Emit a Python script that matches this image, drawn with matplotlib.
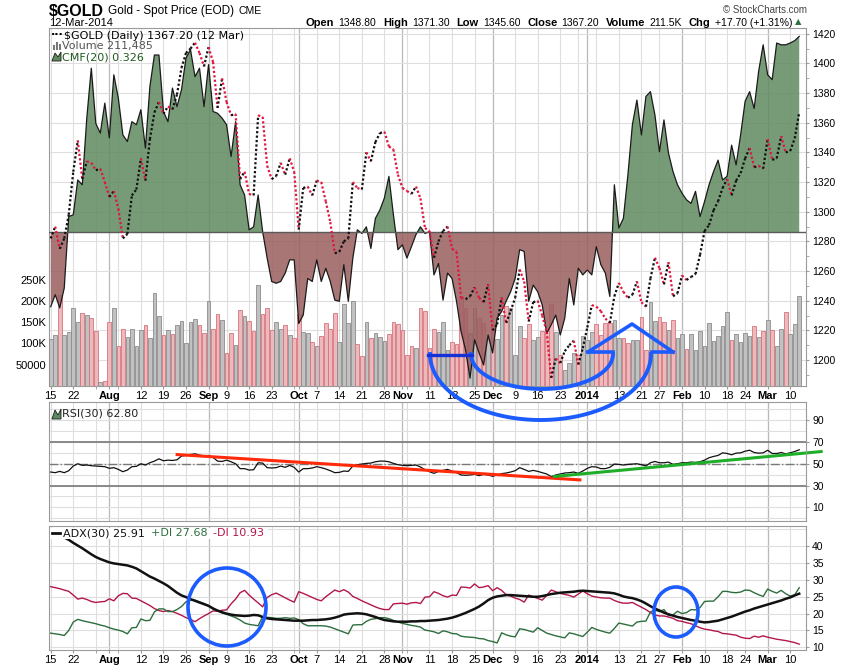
import numpy as np
import pandas as pd
import matplotlib
matplotlib.use("Agg")
import matplotlib.pyplot as plt
from matplotlib.collections import LineCollection
from matplotlib.patches import Ellipse, Rectangle, Polygon

W, H = 850, 668
plt.rcParams['font.family'] = ['Liberation Sans', 'DejaVu Sans']

HOLIDAYS = ["2013-09-02", "2013-11-28", "2013-12-25", "2014-01-01", "2014-01-20", "2014-02-17"]

close = [1282, 1290, 1275, 1282, 1298, 1327, 1348, 1322, 1334, 1333,
         1328, 1329, 1320, 1310, 1314, 1302, 1282, 1285, 1311, 1315,
         1336, 1321, 1349, 1367, 1374, 1366, 1371, 1369, 1379, 1397,
         1407, 1410, 1414, 1407, 1398, 1411, 1401, 1370, 1390, 1374,
         1365, 1366, 1322, 1327, 1312, 1311, 1365, 1364, 1331, 1322,
         1324, 1333, 1325, 1336, 1327, 1288, 1316, 1317, 1311, 1321,
         1320, 1307, 1293, 1272, 1273, 1280, 1282, 1320, 1316, 1315,
         1340, 1334, 1347, 1353, 1354, 1344, 1342, 1325, 1316, 1314,
         1312, 1317, 1309, 1289, 1287, 1269, 1280, 1287, 1290, 1275,
         1273, 1242, 1241, 1243, 1249, 1242, 1239, 1251, 1220, 1224,
         1242, 1225, 1233, 1242, 1261, 1253, 1226, 1239, 1240, 1230,
         1219, 1188, 1201, 1198, 1206, 1210, 1213, 1197, 1208, 1222,
         1237, 1236, 1233, 1228, 1225, 1243, 1252, 1246, 1242, 1244,
         1253, 1239, 1236, 1255, 1269, 1262, 1251, 1266, 1243, 1245,
         1257, 1254, 1256, 1258, 1271, 1287, 1291, 1301, 1307, 1316,
         1322, 1311, 1321, 1326, 1336, 1343, 1330, 1331, 1329, 1349,
         1335, 1336, 1351, 1340, 1341, 1349.5, 1367.2]

volume_k = [110, 119, 214, 119, 126, 183, 150, 171, 166, 159,
            129, 9, 12, 151, 183, 93, 134, 115, 133, 93,
            132, 143, 112, 218, 164, 119, 132, 122, 143, 152,
            100, 150, 157, 143, 124, 200, 134, 169, 155, 77,
            124, 96, 178, 164, 153, 129, 237, 169, 183, 132,
            150, 133, 143, 119, 112, 169, 126, 125, 103, 93,
            118, 147, 134, 171, 104, 194, 147, 200, 98, 71,
            150, 112, 124, 116, 107, 122, 150, 145, 132, 74,
            95, 90, 183, 176, 90, 134, 126, 150, 84, 103,
            98, 212, 184, 124, 183, 161, 149, 110, 140, 110,
            167, 187, 183, 73, 140, 114, 145, 108, 116, 129,
            129, 194, 126, 73, 38, 53, 77, 74, 118, 108,
            128, 145, 120, 147, 147, 155, 112, 114, 100, 108,
            108, 162, 85, 197, 153, 162, 150, 132, 155, 112,
            122, 87, 122, 85, 129, 93, 147, 106, 118, 142,
            175, 108, 122, 104, 124, 118, 142, 115, 129, 155,
            132, 95, 134, 175, 122, 145, 211.485]

cmf = [-0.124, -0.104, -0.126, -0.093, 0.026, 0.029, 0.087, 0.079, 0.190, 0.273,
       0.181, 0.165, 0.215, 0.157, 0.262, 0.223, 0.162, 0.151, 0.184, 0.179,
       0.204, 0.140, 0.243, 0.295, 0.295, 0.201, 0.184, 0.240, 0.209, 0.237,
       0.290, 0.304, 0.259, 0.273, 0.209, 0.279, 0.201, 0.198, 0.190, 0.179,
       0.126, 0.184, 0.079, 0.062, 0.004, 0.009, 0.062, 0.001, -0.043, -0.082,
       -0.085, -0.082, -0.068, -0.046, -0.046, -0.152, -0.138, -0.077, -0.082, -0.046,
       -0.082, -0.060, -0.082, -0.113, -0.115, -0.054, -0.115, -0.043, 0.004, -0.002,
       0.009, -0.027, 0.023, 0.037, 0.057, 0.093, 0.029, -0.029, -0.021, -0.043,
       -0.024, -0.004, 0.009, -0.002, 0.001, -0.071, -0.052, -0.113, -0.068, -0.077,
       -0.115, -0.165, -0.196, -0.243, -0.179, -0.201, -0.221, -0.171, -0.201, -0.143,
       -0.132, -0.115, -0.099, -0.077, -0.029, -0.032, -0.115, -0.088, -0.099, -0.121,
       -0.168, -0.154, -0.138, -0.171, -0.143, -0.077, -0.121, -0.060, -0.071, -0.063,
       -0.071, -0.024, -0.054, -0.068, -0.107, 0.079, 0.007, 0.023, 0.095, 0.179,
       0.220, 0.162, 0.226, 0.234, 0.195, 0.134, 0.187, 0.132, 0.101, 0.079,
       0.065, 0.054, 0.048, 0.068, 0.026, 0.051, 0.079, 0.101, 0.120, 0.087,
       0.093, 0.145, 0.112, 0.162, 0.218, 0.234, 0.206, 0.268, 0.312, 0.262,
       0.254, 0.315, 0.312, 0.312, 0.315, 0.319, 0.326]

rsi = [42.4, 41.8, 43.0, 41.8, 43.6, 47.9, 50.0, 48.5, 48.8, 48.2,
       47.9, 47.6, 47.3, 45.8, 46.4, 44.8, 42.7, 44.2, 47.3, 47.6,
       50.0, 48.8, 50.9, 52.4, 54.5, 52.7, 53.3, 53.0, 53.6, 57.0,
       57.6, 58.5, 59.1, 57.9, 57.0, 57.6, 55.8, 52.4, 52.1, 53.3,
       51.8, 50.0, 45.5, 45.5, 44.2, 44.5, 50.9, 50.6, 46.4, 46.1,
       46.4, 47.9, 46.7, 48.5, 46.7, 42.4, 45.5, 45.5, 46.1, 47.3,
       46.4, 45.2, 43.6, 41.8, 42.1, 43.3, 43.0, 47.9, 49.1, 49.7,
       50.3, 50.6, 51.8, 52.4, 52.4, 51.8, 50.3, 49.1, 48.5, 48.2,
       48.5, 48.8, 47.0, 44.5, 42.7, 41.2, 43.0, 43.9, 44.8, 43.3,
       41.8, 39.7, 39.4, 39.7, 40.3, 39.1, 40.3, 39.7, 38.5, 39.7,
       40.9, 41.5, 42.4, 43.6, 46.4, 44.8, 43.0, 43.9, 43.0, 41.8,
       40.6, 38.2, 39.7, 40.6, 41.5, 41.8, 42.4, 41.2, 43.3, 45.8,
       47.3, 47.0, 45.5, 45.5, 46.7, 49.7, 49.4, 48.8, 49.4, 49.7,
       50.0, 49.1, 47.9, 50.9, 52.1, 50.9, 50.9, 51.5, 49.4, 50.0,
       50.9, 50.9, 51.5, 51.2, 51.8, 53.3, 55.5, 56.7, 57.6, 60.0,
       59.4, 58.2, 59.7, 60.0, 61.5, 62.4, 60.3, 59.7, 60.0, 62.4,
       59.4, 59.4, 60.3, 59.1, 60.0, 61.2, 62.8]

adx = [44.6, 44.0, 43.3, 42.6, 41.9, 41.0, 40.2, 39.4, 38.5, 37.6,
       36.8, 36.2, 35.7, 35.2, 34.9, 34.7, 34.5, 34.3, 33.9, 33.4,
       32.6, 31.8, 31.0, 30.4, 29.7, 29.0, 28.2, 27.2, 26.2, 25.4,
       24.9, 24.3, 23.8, 23.3, 22.8, 22.3, 21.5, 20.9, 20.4, 20.0,
       19.7, 19.5, 19.4, 19.3, 19.4, 19.6, 19.5, 19.0, 18.6, 18.4,
       18.3, 18.2, 18.1, 18.0, 17.9, 17.9, 17.9, 18.0, 18.1, 18.1,
       18.2, 18.3, 18.5, 18.8, 19.2, 19.7, 19.9, 20.0, 20.1, 20.0,
       19.8, 19.4, 19.0, 18.5, 18.1, 17.9, 17.7, 17.6, 17.6, 17.6,
       17.7, 17.7, 17.8, 17.8, 17.9, 18.0, 18.1, 18.3, 18.5, 18.8,
       19.2, 19.7, 20.2, 20.8, 21.4, 22.1, 23.0, 24.0, 24.7, 25.1,
       25.3, 25.5, 25.5, 25.4, 25.3, 25.2, 25.1, 25.0, 25.0, 25.2,
       25.5, 25.8, 26.0, 26.2, 26.3, 26.4, 26.5, 26.7, 26.8, 26.7,
       26.6, 26.5, 26.4, 26.3, 26.2, 26.0, 25.6, 25.1, 24.8, 24.6,
       24.2, 23.7, 23.0, 22.2, 21.5, 20.9, 20.3, 19.8, 19.4, 19.0,
       18.7, 18.4, 18.1, 17.9, 17.6, 17.4, 17.5, 17.7, 17.9, 18.3,
       18.7, 19.1, 19.6, 20.1, 20.6, 21.0, 21.5, 21.9, 22.3, 22.7,
       23.1, 23.5, 23.9, 24.4, 24.8, 25.4, 25.91]

plus_di = [14.2, 14.0, 13.8, 13.5, 15.0, 17.5, 18.3, 17.9, 17.6, 17.3,
           17.0, 16.6, 16.3, 15.8, 15.4, 15.1, 14.7, 14.0, 15.8, 15.9,
           18.4, 17.9, 18.0, 20.5, 21.4, 21.4, 20.6, 20.6, 21.2, 22.1,
           23.5, 24.0, 24.0, 23.5, 23.0, 22.4, 21.7, 20.8, 20.2, 19.8,
           19.3, 18.8, 18.1, 17.2, 16.8, 16.6, 16.4, 19.1, 18.9, 18.8,
           18.6, 18.6, 18.8, 18.6, 18.7, 18.2, 17.0, 16.4, 16.4, 16.4,
           16.4, 16.3, 16.0, 15.5, 15.0, 14.5, 14.0, 16.6, 16.7, 16.7,
           17.7, 18.3, 18.5, 18.8, 18.8, 18.5, 18.0, 17.5, 17.1, 16.8,
           16.5, 16.3, 16.0, 15.1, 14.9, 14.6, 14.1, 14.9, 14.6, 14.1,
           14.0, 13.3, 13.1, 13.0, 12.9, 12.6, 12.5, 12.0, 11.7, 11.3,
           14.3, 13.7, 13.3, 13.1, 15.5, 15.3, 14.9, 14.5, 15.8, 15.0,
           14.2, 13.8, 13.4, 13.1, 12.8, 14.3, 14.0, 13.6, 13.2, 14.5,
           15.9, 15.3, 14.9, 14.5, 14.2, 15.6, 17.2, 16.9, 16.6, 16.3,
           17.5, 17.7, 17.8, 20.5, 21.0, 20.6, 21.2, 19.4, 19.6, 20.7,
           20.0, 20.3, 21.2, 21.1, 21.8, 23.6, 23.7, 23.7, 25.0, 26.6,
           26.6, 26.3, 26.2, 26.4, 27.0, 26.9, 26.2, 25.6, 25.1, 27.3,
           26.6, 26.1, 26.9, 25.9, 25.2, 25.6, 27.68]

minus_di = [28.0, 27.7, 27.4, 27.0, 26.6, 25.5, 24.3, 24.6, 24.2, 23.6,
            23.3, 23.5, 23.6, 24.4, 23.8, 25.3, 26.0, 25.9, 24.6, 24.5,
            23.8, 23.1, 22.4, 21.5, 20.9, 20.6, 20.9, 20.6, 20.1, 19.5,
            18.8, 18.3, 17.6, 18.5, 19.3, 20.0, 20.8, 20.7, 21.0, 21.1,
            22.9, 24.3, 26.2, 26.9, 25.5, 24.3, 23.2, 22.0, 24.8, 25.6,
            26.1, 25.4, 24.7, 24.0, 23.4, 26.5, 26.0, 25.4, 24.8, 24.2,
            23.8, 25.0, 26.0, 27.0, 26.5, 27.1, 26.4, 25.1, 24.5, 23.8,
            23.2, 22.6, 22.0, 21.5, 21.2, 21.2, 22.9, 23.0, 23.1, 22.8,
            23.2, 23.3, 23.0, 24.9, 25.0, 26.5, 26.0, 25.3, 24.9, 25.5,
            25.4, 27.9, 27.8, 27.6, 28.8, 27.7, 27.9, 28.3, 26.8, 27.7,
            26.9, 25.6, 25.2, 24.6, 24.2, 23.4, 25.5, 25.0, 24.5, 24.0,
            25.4, 27.0, 26.5, 26.0, 25.7, 25.4, 24.9, 25.8, 26.7, 25.9,
            25.2, 24.9, 24.7, 24.6, 24.6, 23.9, 23.4, 23.1, 23.1, 23.3,
            22.6, 21.9, 21.2, 20.3, 19.6, 19.3, 19.3, 19.0, 18.6, 17.9,
            17.7, 17.3, 17.0, 16.4, 15.8, 15.4, 15.2, 14.9, 14.7, 14.1,
            14.0, 13.8, 13.6, 13.0, 12.7, 12.6, 13.3, 13.0, 13.4, 13.0,
            12.7, 12.4, 12.2, 12.0, 11.7, 11.4, 10.93]

# hand-drawn trend lines on the RSI panel (day index, RSI value)
rsi_red_trend = ([27.7, 117.7], [58.5, 35.1])
rsi_green_trend = ([111.4, 171.2], [38.2, 61.3])

dates = pd.bdate_range("2013-07-15", "2014-03-12")
dates = dates[~dates.isin(pd.to_datetime(HOLIDAYS))]
x = np.arange(len(dates))
close = np.array(close)
vol = np.array(volume_k) * 1000
cmf = np.array(cmf)
up = np.r_[True, np.diff(close) >= 0]

# weekly / monthly ticks the way the chart labels them
week_start = [i for i in x if i == 0 or dates[i].isocalendar()[1] != dates[i - 1].isocalendar()[1]]
month_start = [i for i in x[1:] if dates[i].month != dates[i - 1].month]
tick_pos, tick_lab, tick_bold = [], [], []
for w in week_start:
    if any(abs(w - m) <= 3 for m in month_start):
        continue
    tick_pos.append(w); tick_lab.append(str(dates[w].day)); tick_bold.append(False)
for m in month_start:
    tick_pos.append(m)
    tick_lab.append('2014' if dates[m].month == 1 else dates[m].strftime('%b'))
    tick_bold.append(True)

XLIM = (-0.38, 167.5)
FRAME = '#9a9a9a'
fig = plt.figure(figsize=(W / 100, H / 100), dpi=100)


def px_rect(l, t, r, b):
    return [l / W, 1 - b / H, (r - l) / W, (b - t) / H]


def vgrid(ax):
    for w in week_start:
        ax.axvline(w, color='#dedede', lw=0.8, zorder=0)
    for m in month_start:
        ax.axvline(m, color='#b9b9b9', lw=0.9, zorder=0)


def style_frame(ax):
    for s in ax.spines.values():
        s.set_color(FRAME)


def xlabels(ax):
    ax.set_xticks(tick_pos)
    ax.set_xticklabels(tick_lab)
    for t, b in zip(ax.get_xticklabels(), tick_bold):
        if b:
            t.set_fontweight('bold')
    ax.set_xticks(week_start, minor=True)
    ax.tick_params(axis='x', which='both', length=2.5, color=FRAME, labelsize=8, pad=1)


def overlay(ax):
    ax.patch.set_visible(False)
    for s in ax.spines.values():
        s.set_visible(False)
    ax.set_xlim(XLIM)
    ax.tick_params(axis='x', which='both', bottom=False, labelbottom=False)


# ---- main panel: grid + price scale
main_rect = px_rect(49, 28, 806, 386)
ax_g = fig.add_axes(main_rect, label='grid')
ax_g.set_xlim(XLIM)
ax_g.set_ylim(1182.5, 1423.9)
vgrid(ax_g)
price_ticks = np.arange(1200, 1421, 20)
for p in price_ticks:
    ax_g.axhline(p, color='#dedede', lw=0.8, zorder=0)
ax_g.yaxis.tick_right()
ax_g.set_yticks(price_ticks)
ax_g.set_yticks(np.arange(1190, 1421, 10), minor=True)
ax_g.tick_params(axis='y', which='both', length=2.5, color=FRAME, labelsize=7.5, pad=2)
xlabels(ax_g)
style_frame(ax_g)

# volume
ax_v = fig.add_axes(main_rect, label='volume')
overlay(ax_v)
ax_v.bar(x, vol, width=0.82,
         color=np.where(up, '#c1c1c1', '#ecb9bd'),
         edgecolor=np.where(up, '#8c8c8c', '#d8747c'), linewidth=0.6)
ax_v.set_ylim(0, 842000)
ax_v.set_yticks([50000, 100000, 150000, 200000, 250000])
ax_v.set_yticklabels(['50000', '100K', '150K', '200K', '250K'])
ax_v.tick_params(axis='y', length=0, labelsize=8, pad=2)

# chaikin money flow
ax_c = fig.add_axes(main_rect, label='cmf')
overlay(ax_c)
ax_c.set_ylim(-0.256, 0.34)
ax_c.set_yticks([])
ax_c.fill_between(x, cmf, 0, where=cmf >= 0, interpolate=True, color='#5f8a5f', alpha=0.85, lw=0)
ax_c.fill_between(x, cmf, 0, where=cmf <= 0, interpolate=True, color='#9a5e5e', alpha=0.85, lw=0)
ax_c.plot(x, cmf, color='#1a1a1a', lw=0.9)
ax_c.axhline(0, color='#5a5a5a', lw=1.0)

# price line, dotted and coloured by direction
ax_l = fig.add_axes(main_rect, label='price')
overlay(ax_l)
ax_l.set_ylim(ax_g.get_ylim())
ax_l.set_yticks([])
segs = [[(i - 1, close[i - 1]), (i, close[i])] for i in x[1:]]
seg_cols = ['#111111' if u else '#e0163f' for u in up[1:]]
ax_l.add_collection(LineCollection(segs, colors=seg_cols, linewidths=1.6,
                                   linestyles=[(0, (1, 1))]))

# ---- RSI panel
ax_r = fig.add_axes(px_rect(49, 402, 806, 521), label='rsi')
ax_r.set_xlim(XLIM)
ax_r.set_ylim(-2.5, 106.6)
vgrid(ax_r)
for lvl in range(0, 101, 10):
    ax_r.axhline(lvl, color='#dedede', lw=0.8, zorder=0)
ax_r.axhline(70, color='#787878', lw=1.2)
ax_r.axhline(30, color='#787878', lw=1.2)
ax_r.axhline(50, color='#787878', lw=1.0, ls='-.')
ax_r.plot(x, rsi, color='#111111', lw=0.9)
ax_r.plot(*rsi_red_trend, color='#ff2a0a', lw=2.2, solid_capstyle='butt')
ax_r.plot(*rsi_green_trend, color='#1fae2a', lw=2.2, clip_on=False, solid_capstyle='butt')
ax_r.yaxis.tick_right()
ax_r.set_yticks([10, 30, 50, 70, 90])
ax_r.tick_params(axis='y', length=2.5, color=FRAME, labelsize=7.5, pad=2)
ax_r.set_xticks(week_start)
ax_r.tick_params(axis='x', length=0, labelbottom=False)
style_frame(ax_r)

# ---- ADX panel
ax_a = fig.add_axes(px_rect(49, 526, 806, 650), label='adx')
ax_a.set_xlim(XLIM)
ax_a.set_ylim(9.2, 46)
vgrid(ax_a)
for lvl in range(10, 46, 5):
    ax_a.axhline(lvl, color='#dedede', lw=0.8, zorder=0)
ax_a.plot(x, minus_di, color='#b3164c', lw=1.0)
ax_a.plot(x, plus_di, color='#2d6e3e', lw=1.0)
ax_a.plot(x, adx, color='#111111', lw=1.8)
ax_a.yaxis.tick_right()
ax_a.set_yticks(range(10, 41, 5))
ax_a.tick_params(axis='y', length=2.5, color=FRAME, labelsize=7.5, pad=2)
xlabels(ax_a)
style_frame(ax_a)

# ---- overlay in pixel units for header, legends and hand drawn marks
ax_o = fig.add_axes([0, 0, 1, 1], label='overlay', zorder=50)
ax_o.set_xlim(0, W)
ax_o.set_ylim(H, 0)
ax_o.axis('off')
rend = fig.canvas.get_renderer()


def chain(x0, y, parts, gap=4, **kw):
    xx = x0
    for s, props in parts:
        t = ax_o.text(xx, y, s, va='center', **{**kw, **props})
        xx += t.get_window_extent(renderer=rend).width + gap
    return xx


chain(49, 11, [('$GOLD', dict(fontsize=11.5, fontweight='bold')),
               ('Gold - Spot Price (EOD)', dict(fontsize=8.5)),
               ('CME', dict(fontsize=7.5))], gap=4)
ax_o.text(49, 23, '12-Mar-2014', fontsize=8, va='center')
ax_o.text(807, 10, '\u00a9 StockCharts.com', fontsize=7, color='#444444', ha='right', va='center')
info = [('Open', True), ('1348.80', False), ('High', True), ('1371.30', False),
        ('Low', True), ('1345.60', False), ('Close', True), ('1367.20', False),
        ('Volume', True), ('211.5K', False), ('Chg', True), ('+17.70 (+1.31%)', False)]
xx = 306
for s, bold in info:
    t = ax_o.text(xx, 23, s, fontsize=8 if bold else 7.5, va='center',
                  fontweight='bold' if bold else 'normal')
    xx += t.get_window_extent(renderer=rend).width + (4 if bold else 7)
ax_o.text(xx - 4, 22, '\u25b2', fontsize=6, color='#2f6f3f', va='center', family='DejaVu Sans')

# main legend
leg = dict(family='DejaVu Sans', fontsize=8, va='center')
ax_o.text(51, 35, '\u00b7\u00b7\u00b7', fontweight='bold', **leg)
ax_o.text(64, 36, '$GOLD (Daily) 1367.20 (12 Mar)', **leg)
for i, hgt in enumerate([5, 8, 6]):
    ax_o.add_patch(Rectangle((53 + i * 3, 50 - hgt), 2.2, hgt, fc='#777777', ec='none'))
ax_o.text(62, 46.5, 'Volume 211,485', color='#555555', **leg)
ax_o.add_patch(Polygon([(52, 61), (55, 53), (58, 57), (61, 52), (61, 61)], fc='#5f8a5f', ec='#1a1a1a', lw=0.6))
ax_o.text(62, 57, 'CMF(20) 0.326', color='#1f5a1f', **leg)

# RSI legend
ax_o.add_patch(Polygon([(52, 419), (55, 410), (58, 415), (61, 409), (61, 419)], fc='#5f8a5f', ec='#1a1a1a', lw=0.6))
ax_o.text(62, 414, 'RSI(30) 62.80', color='#222222', **leg)

# ADX legend on a white strip
ax_o.add_patch(Rectangle((50, 527.5), 218, 11, fc='white', ec='none'))
ax_o.plot([52, 60], [533, 533], color='#111111', lw=2)
chain(63, 533, [('ADX(30) 25.91', dict(color='#111111')),
                ('+DI 27.68', dict(color='#2d6e3e')),
                ('-DI 10.93', dict(color='#b3164c'))], gap=6, family='DejaVu Sans', fontsize=8)

# hand drawn blue marks
BLUE = '#1c5cff'
t = np.linspace(np.pi, 0, 90)
ax_o.plot(540.5 + 110.5 * np.cos(t), 354 + 66 * np.sin(t), color=BLUE, lw=2.8)
ax_o.plot(542 + 71 * np.cos(t), 354 + 35 * np.sin(t), color=BLUE, lw=2.8)
ax_o.plot([428, 472], [355, 355], color='#1532d8', lw=2.4)
ax_o.plot([588, 613], [352, 352], color=BLUE, lw=2.6)
ax_o.plot([652, 673], [352, 352], color=BLUE, lw=2.6)
ax_o.plot([588, 632, 673], [352, 324, 352], color=BLUE, lw=2.6)
ax_o.add_patch(Ellipse((227, 607), 78, 78, fill=False, ec=BLUE, lw=2.6))
ax_o.add_patch(Ellipse((676, 612), 44, 50, fill=False, ec=BLUE, lw=2.6))

fig.savefig('out.png', dpi=100)
